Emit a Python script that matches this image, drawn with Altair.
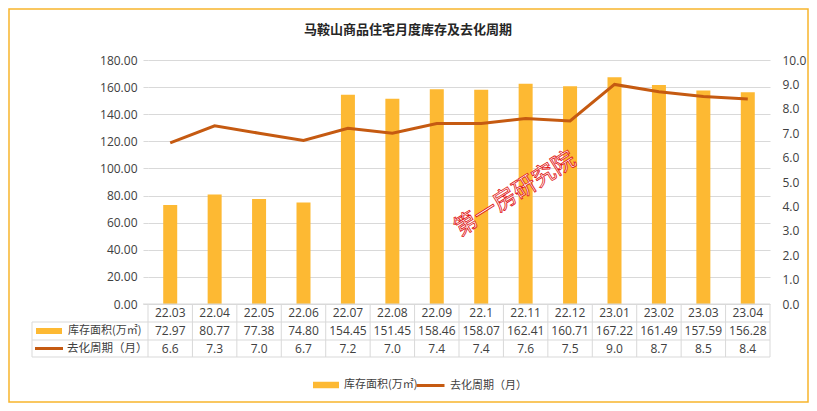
import altair as alt
import pandas as pd

cats = ["22.03", "22.04", "22.05", "22.06", "22.07", "22.08", "22.09",
        "22.1", "22.11", "22.12", "23.01", "23.02", "23.03", "23.04"]
inventory = [72.97, 80.77, 77.38, 74.80, 154.45, 151.45, 158.46,
             158.07, 162.41, 160.71, 167.22, 161.49, 157.59, 156.28]
cycle = [6.6, 7.3, 7.0, 6.7, 7.2, 7.0, 7.4, 7.4, 7.6, 7.5, 9.0, 8.7, 8.5, 8.4]
left_ticks = [0, 20, 40, 60, 80, 100, 120, 140, 160, 180]
right_ticks = [0, 1, 2, 3, 4, 5, 6, 7, 8, 9, 10]

S1 = "库存面积(万㎡)"
S2 = "去化周期（月）"
TITLE = "马鞍山商品住宅月度库存及去化周期"
WATERMARK = "第一房研究院"

BAR = "#FDB933"
LINE = "#C55A11"
GRID = "#D9D9D9"
TXT = "#404040"
CJK = "Noto Sans CJK SC"
NUM = "Open Sans"

df = pd.DataFrame({"cat": cats, "inv": inventory, "cycle": cycle})
base = alt.Chart(df)
one = alt.Data(values=[{}])

xscale = alt.Scale(paddingInner=0, paddingOuter=0)
xenc = alt.X("cat:N", sort=None, axis=None, scale=xscale)

bars = base.transform_calculate(s1="'" + S1 + "'").mark_bar(size=14).encode(
    x=xenc,
    y=alt.Y("inv:Q", scale=alt.Scale(domain=[0, 180], nice=False),
            axis=alt.Axis(values=left_ticks, format=".2f", title=None, grid=True,
                          gridColor=GRID, domain=False, ticks=True, tickColor=GRID,
                          tickSize=5, labelPadding=6, labelFont=NUM, labelFontSize=12,
                          labelColor=TXT, orient="left")),
    color=alt.Color("s1:N", scale=alt.Scale(domain=[S1], range=[BAR]),
                    legend=alt.Legend(title=None, orient="none", legendX=164, legendY=311,
                                      symbolType="M-1,-0.25H1V0.25H-1Z", symbolSize=676,
                                      labelFont=CJK, labelFontSize=11, labelColor=TXT,
                                      labelOffset=4)),
)

line = base.transform_calculate(s2="'" + S2 + "'").mark_line(strokeWidth=3).encode(
    x=xenc,
    y=alt.Y("cycle:Q", scale=alt.Scale(domain=[0, 10], nice=False),
            axis=alt.Axis(values=right_ticks, format=".1f", title=None, grid=False,
                          domain=False, ticks=False, labelPadding=12, labelFont=NUM,
                          labelFontSize=12, labelColor=TXT, orient="right")),
    stroke=alt.Stroke("s2:N", scale=alt.Scale(domain=[S2], range=[LINE]),
                      legend=alt.Legend(title=None, orient="none", legendX=267, legendY=310,
                                        symbolType="stroke", symbolSize=784,
                                        symbolStrokeWidth=3,
                                        labelFont=CJK, labelFontSize=11, labelColor=TXT,
                                        labelOffset=4)),
)

# data table rows
row_cat = base.mark_text(font=NUM, fontSize=12, color=TXT, baseline="middle").encode(
    x=xenc, y=alt.value(253), text="cat:N")
row_inv = base.mark_text(font=NUM, fontSize=12, color=TXT, baseline="middle").encode(
    x=xenc, y=alt.value(271), text=alt.Text("inv:Q", format=".2f"))
row_cyc = base.mark_text(font=NUM, fontSize=12, color=TXT, baseline="middle").encode(
    x=xenc, y=alt.value(288.5), text=alt.Text("cycle:Q", format=".1f"))

vlines = base.mark_rule(color=GRID, strokeWidth=1).encode(
    x=alt.X("cat:N", sort=None, axis=None, scale=xscale, bandPosition=0),
    y=alt.value(244), y2=alt.value(297))


def hrule(y, x1, x2):
    return alt.Chart(one).mark_rule(color=GRID, strokeWidth=1).encode(
        x=alt.value(x1), x2=alt.value(x2), y=alt.value(y))


def vrule(x, y1, y2):
    return alt.Chart(one).mark_rule(color=GRID, strokeWidth=1).encode(
        x=alt.value(x), y=alt.value(y1), y2=alt.value(y2))


table_lines = [
    hrule(244, -5, 622), hrule(262, -116, 622), hrule(280, -116, 622),
    hrule(297, -116, 622), vrule(-116, 262, 297), vrule(622, 244, 297),
]

key_bar = alt.Chart(one).mark_rect(color=BAR).encode(
    x=alt.value(-112), x2=alt.value(-86), y=alt.value(268), y2=alt.value(274))
key_line = alt.Chart(one).mark_rule(color=LINE, strokeWidth=3).encode(
    x=alt.value(-113), x2=alt.value(-85), y=alt.value(288.5))
key_t1 = alt.Chart(one).mark_text(text=S1, font=CJK, fontSize=11, color=TXT,
                                  align="left", baseline="middle").encode(
    x=alt.value(-80), y=alt.value(271))
key_t2 = alt.Chart(one).mark_text(text=S2, font=CJK, fontSize=11.5, color=TXT,
                                  align="left", baseline="middle").encode(
    x=alt.value(-81), y=alt.value(288.5))

title = alt.Chart(one).mark_text(text=TITLE, font=CJK, fontSize=13, fontWeight="bold",
                                 color="#262626", align="center", baseline="middle").encode(
    x=alt.value(260), y=alt.value(-30))

watermark = alt.Chart(one).mark_text(text=WATERMARK, font=CJK, fontSize=23, fill="white",
                                     stroke="#E01010", strokeWidth=0.8, angle=328,
                                     align="center", baseline="middle").encode(
    x=alt.value(367), y=alt.value(134))

border = alt.Chart(one).mark_rect(fill=None, stroke="#F7B52C", strokeWidth=1.5).encode(
    x=alt.value(-139), x2=alt.value(660), y=alt.value(-51), y2=alt.value(342))

chart = alt.layer(
    bars, line, row_cat, row_inv, row_cyc, vlines, *table_lines,
    key_bar, key_line, key_t1, key_t2, title, watermark, border,
).resolve_scale(y="independent", color="independent", stroke="independent").properties(
    width=622, height=244,
    autosize=alt.AutoSizeParams(type="none"),
    padding={"left": 140, "top": 52, "right": 39, "bottom": 99},
    background="white",
).configure_view(stroke=None)

chart.save("out.html", embed_options={"renderer": "svg", "actions": False})
